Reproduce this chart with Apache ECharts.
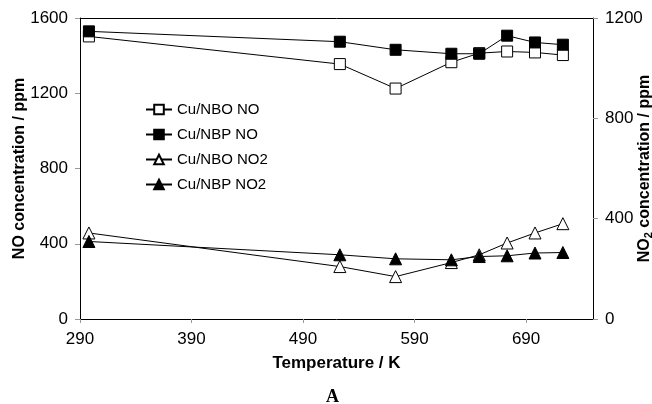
<!DOCTYPE html>
<html>
<head>
<meta charset="utf-8">
<script src="https://cdn.jsdelivr.net/npm/echarts@6/dist/echarts.min.js"></script>
<style>html,body{margin:0;padding:0;background:#fff}#c{width:652px;height:404px}</style>
</head>
<body>
<div id="c"></div>
<script>
const temps = [298, 523, 573, 623, 648, 673, 698, 723];
const nboNO  = [1502, 1355, 1225, 1365, 1413, 1422, 1417, 1403];
const nbpNO  = [1529, 1474, 1431, 1410, 1410, 1506, 1470, 1458];
const nboNO2 = [343, 209, 169, 225, 256, 303, 343, 380];
const nbpNO2 = [309, 256, 240, 236, 249, 252, 263, 265];
const xTicks = [290, 390, 490, 590, 690];
const seriesNames = ['Cu/NBO NO', 'Cu/NBP NO', 'Cu/NBO NO2', 'Cu/NBP NO2'];

const pair = (xs, ys) => xs.map((x, i) => [x, ys[i]]);
const font = 'Liberation Sans, Arial, sans-serif';
const chart = echarts.init(document.getElementById('c'), null, {renderer: 'canvas'});

function mk(name, data, symbol, filled, yIndex) {
  return {
    name, type: 'line', yAxisIndex: yIndex, data,
    symbol, symbolSize: symbol === 'triangle' ? 12 : 11,
    lineStyle: {color: '#000', width: 1},
    itemStyle: {color: filled ? '#000' : '#fff', borderColor: '#000', borderWidth: 1},
    emphasis: {disabled: true}, animation: false
  };
}
const plain = v => String(v);

chart.setOption({
  animation: false,
  grid: {left: 80, right: 59, top: 18, bottom: 85, containLabel: false, outerBoundsMode: 'none'},
  legend: {
    orient: 'vertical', left: 140, top: 97, itemGap: 10,
    itemWidth: 26, itemHeight: 12,
    textStyle: {fontFamily: font, fontSize: 15, color: '#000'},
    data: seriesNames
  },
  xAxis: {
    type: 'value', min: 290, max: 750, interval: 100,
    name: 'Temperature / K', nameLocation: 'middle', nameGap: 36,
    nameTextStyle: {fontFamily: font, fontSize: 17, fontWeight: 'bold', color: '#000'},
    axisLine: {lineStyle: {color: '#000', width: 1}},
    axisTick: {show: true, length: 4, lineStyle: {color: '#999'}, customValues: xTicks},
    axisLabel: {fontFamily: font, fontSize: 17, color: '#000', margin: 12, customValues: xTicks, formatter: plain},
    splitLine: {show: false}
  },
  yAxis: [{
    type: 'value', min: 0, max: 1600, interval: 400, position: 'left',
    name: 'NO concentration / ppm', nameLocation: 'middle', nameGap: 52, nameRotate: 90,
    nameMoveOverlap: false,
    nameTextStyle: {fontFamily: font, fontSize: 16, fontWeight: 'bold', color: '#000'},
    axisLine: {show: true, lineStyle: {color: '#000', width: 1}},
    axisTick: {show: true, length: 5, lineStyle: {color: '#999'}},
    axisLabel: {fontFamily: font, fontSize: 17, color: '#000', margin: 12, formatter: plain},
    splitLine: {show: false}
  }, {
    type: 'value', min: 0, max: 1200, interval: 400, position: 'right',
    name: 'NO{sub|2} concentration / ppm', nameLocation: 'middle', nameGap: 42, nameRotate: 90,
    nameMoveOverlap: false,
    nameTextStyle: {fontFamily: font, fontSize: 16, fontWeight: 'bold', color: '#000',
      rich: {sub: {fontFamily: font, fontSize: 11, fontWeight: 'bold', color: '#000', padding: [8, 0, 0, 0]}}},
    axisLine: {show: true, lineStyle: {color: '#000', width: 1}},
    axisTick: {show: true, length: 5, lineStyle: {color: '#999'}},
    axisLabel: {fontFamily: font, fontSize: 17, color: '#000', margin: 12, formatter: plain},
    splitLine: {show: false}
  }],
  graphic: [{
    type: 'line', silent: true,
    shape: {x1: 80, y1: 18.5, x2: 593, y2: 18.5},
    style: {stroke: '#000', lineWidth: 1}
  }, {
    type: 'text', left: 326, top: 388,
    style: {text: 'A', font: 'bold 18px "Liberation Serif", "DejaVu Serif", serif', fill: '#000'}
  }],
  series: [
    mk(seriesNames[0], pair(temps, nboNO), 'rect', false, 0),
    mk(seriesNames[1], pair(temps, nbpNO), 'rect', true, 0),
    mk(seriesNames[2], pair(temps, nboNO2), 'triangle', false, 1),
    mk(seriesNames[3], pair(temps, nbpNO2), 'triangle', true, 1)
  ]
});
</script>
</body>
</html>
